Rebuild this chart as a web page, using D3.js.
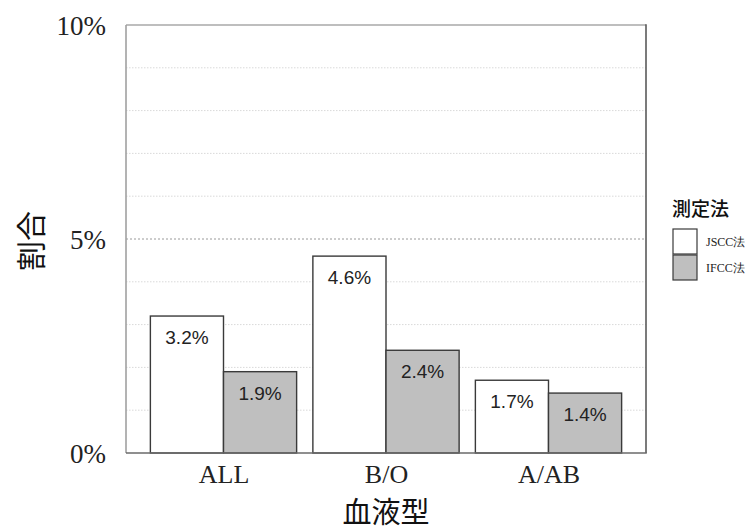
<!DOCTYPE html>
<html>
<head>
<meta charset="utf-8">
<script src="https://cdn.jsdelivr.net/npm/d3@7"></script>
<style>
  html, body { margin: 0; padding: 0; background: #fff; }
  svg { display: block; }
</style>
</head>
<body>
<svg id="chart" width="756" height="531"></svg>
<script>
// Blood-type groups and the two measurement methods
const categories = ["ALL", "B/O", "A/AB"];
const methods = ["JSCC法", "IFCC法"];
const jsccValues = [3.2, 4.6, 1.7];
const ifccValues = [1.9, 2.4, 1.4];
const yTicks = [0, 5, 10];
const yTickLabels = ["0%", "5%", "10%"];
const gridValues = [1, 2, 3, 4, 5, 6, 7, 8, 9];
const methodFills = ["#ffffff", "#bfbfbf"];

const svg = d3.select("#chart");
const plotL = 126, plotR = 646, plotT = 25, plotB = 453;

// Discrete positions 1..n with padding on both sides
const x = d3.scaleLinear().domain([0.4, categories.length + 0.6]).range([plotL, plotR]);
const y = d3.scaleLinear().domain([0, 10]).range([plotB, plotT]);
const barW = x(1.45) - x(1);

const series = [jsccValues, ifccValues];

// Horizontal grid lines
svg.append("g").selectAll("line").data(gridValues).join("line")
  .attr("x1", plotL).attr("x2", plotR)
  .attr("y1", d => y(d)).attr("y2", d => y(d))
  .attr("stroke", d => d === 5 ? "#9a9a9a" : "#d9d9d9")
  .attr("stroke-width", 1)
  .attr("stroke-dasharray", d => d === 5 ? "2,2" : "1.5,1.5");

// Bars
const bars = svg.append("g");
series.forEach((vals, m) => {
  bars.selectAll(null).data(vals).join("rect")
    .attr("x", (d, i) => x(i + 1) + (m - 1) * barW)
    .attr("y", d => y(d))
    .attr("width", barW)
    .attr("height", d => y(0) - y(d))
    .attr("fill", methodFills[m])
    .attr("stroke", "#3a3a3a")
    .attr("stroke-width", 1.4);
});

// Value labels inside the top of each bar
series.forEach((vals, m) => {
  svg.append("g").selectAll("text").data(vals).join("text")
    .attr("x", (d, i) => x(i + 1) + (m - 0.5) * barW)
    .attr("y", d => y(d) + 28)
    .attr("text-anchor", "middle")
    .attr("font-family", "'Liberation Sans', Arial, sans-serif")
    .attr("font-size", 19)
    .attr("fill", "#222")
    .text(d => d.toFixed(1) + "%");
});

// Panel border
const border = svg.append("g").attr("fill", "none");
border.append("line").attr("x1", plotL).attr("x2", plotR).attr("y1", plotT).attr("y2", plotT)
  .attr("stroke", "#a8a8a8").attr("stroke-width", 1.6);
border.append("line").attr("x1", plotL).attr("x2", plotL).attr("y1", plotT).attr("y2", plotB)
  .attr("stroke", "#a0a0a0").attr("stroke-width", 1.6);
border.append("line").attr("x1", plotR).attr("x2", plotR).attr("y1", plotT - 0.8).attr("y2", plotB)
  .attr("stroke", "#5a5a5a").attr("stroke-width", 1.6);
border.append("line").attr("x1", plotL).attr("x2", plotR + 0.8).attr("y1", plotB).attr("y2", plotB)
  .attr("stroke", "#6a6a6a").attr("stroke-width", 1.6);

// Y axis labels
const yAxis = d3.axisLeft(y).tickValues(yTicks)
  .tickFormat((d, i) => yTickLabels[i]).tickSize(0).tickPadding(20);
const yG = svg.append("g").attr("transform", `translate(${plotL},0)`).call(yAxis);
yG.select(".domain").remove();
yG.selectAll("text")
  .attr("font-family", "'Liberation Serif', 'Times New Roman', serif")
  .attr("font-size", 27).attr("fill", "#222").attr("dy", "0.36em");

// X axis labels
const xAxis = d3.axisBottom(x).tickValues(categories.map((c, i) => i + 1))
  .tickFormat((d, i) => categories[i]).tickSize(0).tickPadding(10);
const xG = svg.append("g").attr("transform", `translate(0,${plotB})`).call(xAxis);
xG.select(".domain").remove();
xG.selectAll("text")
  .attr("font-family", "'Liberation Serif', 'Times New Roman', serif")
  .attr("font-size", 26).attr("fill", "#222").attr("dy", "0.75em");

// Axis titles
svg.append("text")
  .attr("x", (plotL + plotR) / 2).attr("y", 523)
  .attr("text-anchor", "middle")
  .attr("font-family", "'Noto Sans CJK JP', sans-serif")
  .attr("font-size", 29).attr("fill", "#111")
  .text("血液型");

svg.append("text")
  .attr("transform", "translate(42,241) rotate(-90)")
  .attr("text-anchor", "middle")
  .attr("font-family", "'Noto Sans CJK JP', sans-serif")
  .attr("font-size", 30).attr("fill", "#111")
  .text("割合");

// Legend
const legend = svg.append("g");
legend.append("text")
  .attr("x", 672).attr("y", 216)
  .attr("font-family", "'Noto Sans CJK JP', sans-serif")
  .attr("font-size", 19).attr("font-weight", 500).attr("fill", "#111")
  .text("測定法");
methods.forEach((name, m) => {
  legend.append("rect")
    .attr("x", 673).attr("y", 229 + m * 26)
    .attr("width", 24).attr("height", 25)
    .attr("fill", methodFills[m]).attr("stroke", "#3a3a3a").attr("stroke-width", 1.2);
  legend.append("text")
    .attr("x", 706).attr("y", 246 + m * 26)
    .attr("font-family", "'Liberation Serif', 'Times New Roman', serif")
    .attr("font-size", 12).attr("fill", "#222")
    .text(name);
});
</script>
</body>
</html>
